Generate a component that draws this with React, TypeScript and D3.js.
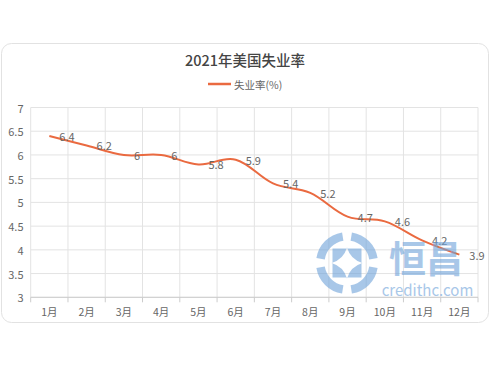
import React from "react";
import * as d3 from "d3";

const months = ["1月", "2月", "3月", "4月", "5月", "6月", "7月", "8月", "9月", "10月", "11月", "12月"];
const unemployment = [6.4, 6.2, 6.0, 6.0, 5.8, 5.9, 5.4, 5.2, 4.7, 4.6, 4.2, 3.9];
const yTicks = [3, 3.5, 4, 4.5, 5, 5.5, 6, 6.5, 7];
const title = "2021年美国失业率";
const seriesName = "失业率(%)";

const W = 490;
const H = 368;
const plot = { left: 30.7, right: 478, top: 107.5, bottom: 297.3 };
const lineColor = "#EA6A40";
const font = "'Noto Sans CJK SC', 'Noto Sans', sans-serif";

export default function App() {
  const x = d3.scaleBand<string>().domain(months).range([plot.left, plot.right]).padding(0);
  const y = d3.scaleLinear().domain([3, 7]).range([plot.bottom, plot.top]);
  const cx = (m: string) => (x(m) as number) + x.bandwidth() / 2;
  const boundaries = months.map((m) => x(m) as number).concat([plot.right]);

  const line = d3
    .line<number>()
    .x((_, i) => cx(months[i]))
    .y((d) => y(d))
    .curve(d3.curveCardinal.tension(-0.1));

  // watermark logo geometry
  const lc = { x: 347, y: 263 };
  const arcGen = d3.arc<any>().innerRadius(22.5).outerRadius(31);
  const gap = 0.16;
  const arcs = [0, 1, 2, 3].map((k) =>
    arcGen({ startAngle: (k * Math.PI) / 2 + gap, endAngle: ((k + 1) * Math.PI) / 2 - gap } as any)
  );
  const s = 14.5;
  const sq = `M${-s},${-s}H${s}V${s}H${-s}Z`;
  const q = 3.5;
  const star = `M0,${-s - 1} Q${q},${-q} ${s + 1},0 Q${q},${q} 0,${s + 1} Q${-q},${q} ${-s - 1},0 Q${-q},${-q} 0,${-s - 1}Z`;

  return (
    <svg width={W} height={H} style={{ display: "block", position: "absolute", left: 0, top: 0 }} fontFamily={font}>
      <rect x={0} y={0} width={W} height={H} fill="#fff" />
      <rect x={1.5} y={43.5} width={487} height={279} rx={10} ry={10} fill="#fff" stroke="#e2e2e2" strokeWidth={1} />

      <text x={245} y={59} textAnchor="middle" dominantBaseline="central" fontSize={14.5} fontWeight={500} fill="#444">
        {title}
      </text>

      <line x1={208} x2={231} y1={84} y2={84} stroke={lineColor} strokeWidth={2.5} />
      <text x={234} y={84} dominantBaseline="central" fontSize={10.5} fill="#666">
        {seriesName}
      </text>

      {yTicks.map((t) => (
        <g key={t}>
          <line x1={plot.left} x2={plot.right} y1={y(t)} y2={y(t)} stroke="#e3e3e3" strokeWidth={1} />
          <text x={23.5} y={y(t)} textAnchor="end" dominantBaseline="central" fontSize={11} fill="#666">
            {t}
          </text>
        </g>
      ))}
      {boundaries.map((b, i) => (
        <g key={i}>
          <line x1={b} x2={b} y1={plot.top} y2={plot.bottom} stroke="#e3e3e3" strokeWidth={1} />
          <line x1={b} x2={b} y1={plot.bottom} y2={plot.bottom + 5} stroke="#ccc" strokeWidth={1} />
        </g>
      ))}
      <line x1={plot.left} x2={plot.right} y1={plot.bottom} y2={plot.bottom} stroke="#ccc" strokeWidth={1} />
      {months.map((m) => (
        <text key={m} x={cx(m)} y={311} textAnchor="middle" dominantBaseline="central" fontSize={10.5} fill="#666">
          {m}
        </text>
      ))}

      <path d={line(unemployment) || ""} fill="none" stroke={lineColor} strokeWidth={2} />
      {unemployment.map((v, i) => (
        <text key={i} x={cx(months[i]) + 10} y={y(v)} dominantBaseline="central" fontSize={11} fill="#666">
          {v}
        </text>
      ))}

      <g opacity={0.6} fill="#6FA3DA">
        <g transform={`translate(${lc.x},${lc.y})`}>
          {arcs.map((a, i) => (
            <path key={i} d={a || ""} />
          ))}
          <path d={sq + star} fillRule="evenodd" />
        </g>
        <text x={426} y={257} textAnchor="middle" dominantBaseline="central" fontSize={37} fontWeight={700}>
          恒昌
        </text>
        <text x={427.5} y={289} textAnchor="middle" dominantBaseline="central" fontSize={15}>
          credithc.com
        </text>
      </g>
    </svg>
  );
}
